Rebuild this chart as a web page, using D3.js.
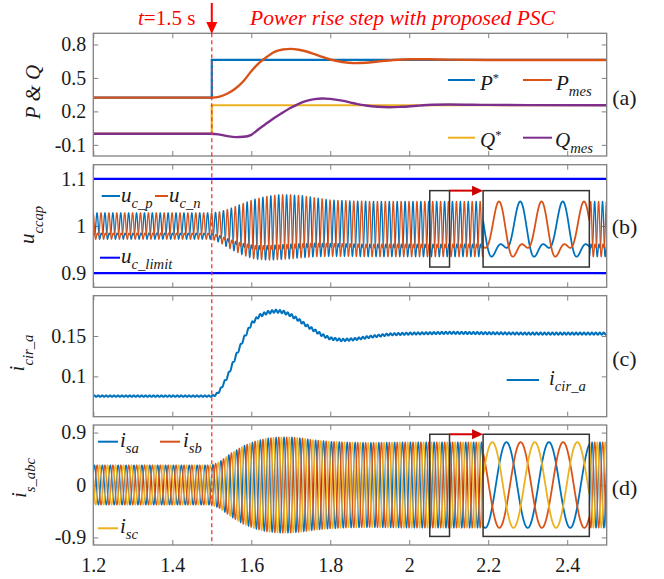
<!DOCTYPE html>
<html><head><meta charset="utf-8">
<script src="https://cdn.jsdelivr.net/npm/d3@7"></script>
</head><body style="margin:0;background:#fff">
<svg id="c" width="664" height="579" font-family="Liberation Serif" style="display:block"></svg>
<script>
// ================= DATA =================
const xTicks=[1.2,1.4,1.6,1.8,2,2.2,2.4];
const yTicksA=[-0.1,0.2,0.5,0.8];
const yTicksB=[0.9,1,1.1];
const yTicksC=[0.1,0.15];
const yTicksD=[-0.9,0,0.9];

// (a) power references and measurements
const refT=[1.2,1.5,1.5,2.5];
const pRef=[0.323,0.323,0.661,0.661];
const qRef=[0,0,0.255,0.255];
const pMesT=[1.2,1.5,1.52,1.54,1.56,1.58,1.60,1.62,1.64,1.66,1.68,1.70,1.72,1.74,1.76,1.78,1.80,1.83,1.86,1.89,1.92,1.96,2.0,2.05,2.1,2.2,2.3,2.5];
const pMes=[0.323,0.323,0.333,0.36,0.405,0.47,0.56,0.635,0.69,0.735,0.755,0.76,0.753,0.737,0.713,0.688,0.665,0.643,0.633,0.636,0.647,0.661,0.668,0.667,0.664,0.661,0.661,0.661];
const qMesT=[1.2,1.5,1.52,1.54,1.56,1.58,1.60,1.62,1.64,1.66,1.68,1.70,1.72,1.74,1.76,1.78,1.80,1.83,1.86,1.89,1.92,1.95,1.98,2.02,2.06,2.1,2.2,2.3,2.5];
const qMes=[0,0,-0.008,-0.022,-0.031,-0.028,-0.01,0.045,0.095,0.145,0.19,0.232,0.268,0.294,0.31,0.316,0.312,0.296,0.273,0.253,0.241,0.237,0.241,0.251,0.259,0.262,0.258,0.256,0.255];

// (b) capacitor voltage envelope (upper / lower) and waveform harmonics
const ucEnvT=[1.2,1.5,1.52,1.55,1.58,1.61,1.64,1.67,1.70,1.73,1.76,1.80,1.85,1.9,2.0,2.5];
const ucHi=[1.028,1.028,1.03,1.038,1.048,1.057,1.063,1.066,1.066,1.064,1.06,1.055,1.053,1.052,1.052,1.052];
const ucLo=[0.972,0.972,0.965,0.950,0.938,0.930,0.928,0.929,0.931,0.933,0.935,0.936,0.936,0.935,0.935,0.935];
const ucHarmAmp=[1,0.55];
const ucHarmPh=[0,-0.45];
const ucLimit=[1.1,0.9];

// (c) circulating current (mean) and ripple amplitude
const icirT=[1.2,1.5,1.51,1.52,1.54,1.56,1.58,1.60,1.62,1.64,1.66,1.68,1.70,1.72,1.74,1.76,1.78,1.80,1.83,1.86,1.90,1.95,2.0,2.1,2.2,2.3,2.5];
const icir=[0.0755,0.0755,0.077,0.082,0.100,0.124,0.146,0.165,0.175,0.179,0.181,0.180,0.176,0.170,0.163,0.157,0.151,0.147,0.145,0.146,0.149,0.152,0.153,0.154,0.1535,0.153,0.153];
const icirRipT=[1.2,1.5,1.55,1.7,1.9,2.5];
const icirRip=[0.0009,0.0009,0.0018,0.0018,0.0013,0.0013];

// (d) grid current amplitude envelope
const isEnvT=[1.2,1.5,1.52,1.55,1.58,1.61,1.64,1.67,1.70,1.73,1.76,1.80,1.85,1.9,2.0,2.5];
const isAmp=[0.34,0.34,0.40,0.55,0.67,0.75,0.80,0.82,0.82,0.80,0.77,0.745,0.73,0.725,0.735,0.735];

const fGrid=50;        // Hz
const fRipple=100;     // Hz
const ucPeakT=2.059;   // time of a u_c_n peak
const isPeakT=2.063;   // time of an i_sa peak
const zoomSrc=[2.052,2.102];
const zoomDst=[2.187,2.456];
const zoomBoxB=[0.913,1.075];
const zoomBoxD=[-0.883,0.871];

// ================= LAYOUT =================
const FONT="Liberation Serif";
const C={blue:"#0072BD",orange:"#D95319",yellow:"#EDB120",purple:"#7E2F8E",lim:"#0000FF",red:"#FF0000",frame:"#808080",txt:"#1a1a1a"};
const svg=d3.select("#c");
const x=d3.scaleLinear().domain([1.2,2.5]).range([93.3,606.7]);
const P=[
 {id:"a",top:33.3,bot:156,dom:[-0.2,0.9],ticks:yTicksA},
 {id:"b",top:164.7,bot:287.3,dom:[0.87,1.13],ticks:yTicksB},
 {id:"c",top:295.7,bot:416.7,dom:[0.05,0.2],ticks:yTicksC},
 {id:"d",top:425,bot:545,dom:[-1.03,1.03],ticks:yTicksD}
];
P.forEach(p=>{p.y=d3.scaleLinear().domain(p.dom).range([p.bot,p.top]);});
const defs=svg.append("defs");
P.forEach(p=>{
  defs.append("clipPath").attr("id","clip"+p.id).append("rect")
   .attr("x",x.range()[0]).attr("y",p.top).attr("width",x.range()[1]-x.range()[0]).attr("height",p.bot-p.top);
});

function txt(parent){return parent.append("text").attr("font-family",FONT).style("font-family",FONT).attr("fill",C.txt);}
function rich(sel,parts,size,subShift){
  let shift=0;
  parts.forEach(([s,m])=>{
    const ts=sel.append("tspan").text(s).style("font-family",FONT);
    let target=0,fs=size,it=true;
    if(m==="n")it=false;
    if(m==="sub"){target=size*(subShift||0.3);fs=size*0.7;}
    if(m==="sup"){target=-size*0.4;fs=size*0.6;it=false;}
    ts.attr("dy",target-shift).attr("font-size",fs).attr("font-style",it?"italic":"normal");
    shift=target;
  });
}
const interp=(T,V)=>d3.scaleLinear().domain(T).range(V).clamp(true);
function grid(t0,t1,dt){const a=[];const n=Math.round((t1-t0)/dt);for(let i=0;i<=n;i++)a.push(t0+i*dt);return a;}
const w=2*Math.PI*fGrid;

// series builders
const hiF=interp(ucEnvT,ucHi), loF=interp(ucEnvT,ucLo);
const gF=th=>ucHarmAmp.reduce((s,a,k)=>s+a*Math.cos((k+1)*th+ucHarmPh[k]),0);
let gmax=-1e9,gmin=1e9;
for(let i=0;i<2000;i++){const v=gF(i/2000*2*Math.PI);gmax=Math.max(gmax,v);gmin=Math.min(gmin,v);}
const uc=(t,sh)=>{const g=(gF(w*(t-ucPeakT)+sh)-gmin)/(gmax-gmin);return loF(t)+(hiF(t)-loF(t))*g;};
const ampF=interp(isEnvT,isAmp);
const isF=(t,k)=>ampF(t)*Math.cos(w*(t-isPeakT)-k*2*Math.PI/3);
const icF=interp(icirT,icir), ripF=interp(icirRipT,icirRip);

// ================= PANELS =================
P.forEach(p=>{
  const g=svg.append("g");
  const ax=(axis,tr)=>{const a=g.append("g").attr("transform",tr).call(axis).attr("font-family",FONT);a.select(".domain").remove();
     a.selectAll(".tick line").attr("stroke",C.frame).attr("stroke-width",1);
     a.selectAll(".tick text").attr("font-size",20).attr("fill",C.txt).style("font-family",FONT);return a;};
  ax(d3.axisBottom(x).tickValues(xTicks).tickSizeInner(-5).tickSizeOuter(0).tickPadding(13)
     .tickFormat(p.id==="d"?(d=>String(d)):()=>""),`translate(0,${p.bot})`);
  ax(d3.axisTop(x).tickValues(xTicks).tickSizeInner(-5).tickSizeOuter(0).tickFormat(()=>""),`translate(0,${p.top})`);
  ax(d3.axisLeft(p.y).tickValues(p.ticks).tickSizeInner(-5).tickSizeOuter(0).tickPadding(7).tickFormat(d=>String(d)),`translate(${x.range()[0]},0)`);
  ax(d3.axisRight(p.y).tickValues(p.ticks).tickSizeInner(-5).tickSizeOuter(0).tickFormat(()=>""),`translate(${x.range()[1]},0)`);
  p.g=g.append("g").attr("clip-path",`url(#clip${p.id})`);
});

const lineOf=(p,xs=x)=>d3.line().x(d=>xs(d[0])).y(d=>p.y(d[1]));

// (a)
{const p=P[0];
 const add=(T,V,c,wd,curve)=>p.g.append("path").datum(T.map((t,i)=>[t,V[i]]))
   .attr("d",lineOf(p).curve(curve||d3.curveLinear)).attr("fill","none").attr("stroke",c).attr("stroke-width",wd);
 add(refT,pRef,C.blue,2.2); add(refT,qRef,C.yellow,2.2);
 add(pMesT,pMes,C.orange,2.4,d3.curveMonotoneX); add(qMesT,qMes,C.purple,2.4,d3.curveMonotoneX);
}
// (b)
{const p=P[1];
 ucLimit.forEach(v=>p.g.append("line").attr("x1",x.range()[0]).attr("x2",x.range()[1]).attr("y1",p.y(v)).attr("y2",p.y(v)).attr("stroke",C.lim).attr("stroke-width",2.2));
 const ts=grid(1.2,2.5,0.0002);
 p.g.append("path").datum(ts.map(t=>[t,uc(t,Math.PI)])).attr("d",lineOf(p)).attr("fill","none").attr("stroke",C.blue).attr("stroke-width",1.3);
 p.g.append("path").datum(ts.map(t=>[t,uc(t,0)])).attr("d",lineOf(p)).attr("fill","none").attr("stroke",C.orange).attr("stroke-width",1.3);
}
// (c)
{const p=P[2];
 const ts=grid(1.2,2.5,0.0002);
 p.g.append("path").datum(ts.map(t=>[t,icF(t)+ripF(t)*Math.sin(2*Math.PI*fRipple*t)])).attr("d",lineOf(p))
  .attr("fill","none").attr("stroke",C.blue).attr("stroke-width",2);
}
// (d)
{const p=P[3];
 const ts=grid(1.2,2.5,0.0002);
 [C.blue,C.orange,C.yellow].forEach((c,k)=>{
   p.g.append("path").datum(ts.map(t=>[t,isF(t,k)])).attr("d",lineOf(p)).attr("fill","none").attr("stroke",c).attr("stroke-width",1.3);
 });
}

// ================= INSETS =================
function inset(p,box,series){
  const g=svg.append("g");
  const x0=x(zoomSrc[0]),x1=x(zoomSrc[1]),X0=x(zoomDst[0]),X1=x(zoomDst[1]);
  const yt=p.y(box[1]),yb=p.y(box[0]);
  g.append("rect").attr("x",x0).attr("y",yt).attr("width",x1-x0).attr("height",yb-yt).attr("fill","none").attr("stroke","#333").attr("stroke-width",1.5);
  g.append("rect").attr("x",X0).attr("y",yt).attr("width",X1-X0).attr("height",yb-yt).attr("fill","#fff");
  const id="ins"+p.id;
  defs.append("clipPath").attr("id",id).append("rect").attr("x",X0).attr("y",yt).attr("width",X1-X0).attr("height",yb-yt);
  const xi=d3.scaleLinear().domain(zoomSrc).range([X0,X1]);
  const ts=grid(zoomSrc[0],zoomSrc[1],0.00005);
  const gi=g.append("g").attr("clip-path",`url(#${id})`);
  series.forEach(([f,c])=>gi.append("path").datum(ts.map(t=>[t,f(t)])).attr("d",lineOf(p,xi)).attr("fill","none").attr("stroke",c).attr("stroke-width",1.8));
  g.append("rect").attr("x",X0).attr("y",yt).attr("width",X1-X0).attr("height",yb-yt).attr("fill","none").attr("stroke","#333").attr("stroke-width",1.5);
  g.append("line").attr("x1",x1).attr("x2",X0-9).attr("y1",yt).attr("y2",yt).attr("stroke","#D00000").attr("stroke-width",2);
  g.append("path").attr("d",`M${X0},${yt}L${X0-11},${yt-5}L${X0-11},${yt+5}Z`).attr("fill","#D00000");
}
inset(P[1],zoomBoxB,[[t=>uc(t,Math.PI),C.blue],[t=>uc(t,0),C.orange]]);
inset(P[3],zoomBoxD,[[t=>isF(t,0),C.blue],[t=>isF(t,1),C.orange],[t=>isF(t,2),C.yellow]]);

// frames
P.forEach(p=>svg.append("rect").attr("x",x.range()[0]).attr("y",p.top).attr("width",x.range()[1]-x.range()[0]).attr("height",p.bot-p.top)
  .attr("fill","none").attr("stroke",C.frame).attr("stroke-width",1.3));

// ================= LEGENDS =================
function leg(x1,x2,y,c,tx,base,parts){
  svg.append("line").attr("x1",x1).attr("x2",x2).attr("y1",y).attr("y2",y).attr("stroke",c).attr("stroke-width",2);
  rich(txt(svg).attr("x",tx).attr("y",base),parts,21);
}
leg(448,475,80,C.blue,480,90,[["P","i"],["*","sup"]]);
leg(523,552,80,C.orange,556,90,[["P","i"],["mes","sub"]]);
leg(448,475,137.7,C.yellow,480,147,[["Q","i"],["*","sup"]]);
leg(523,552,137.7,C.purple,555,147,[["Q","i"],["mes","sub"]]);
leg(101.7,120,196,C.blue,121,202,[["u","i"],["c_p","sub"]]);
leg(155,168,196,C.orange,169,202,[["u","i"],["c_n","sub"]]);
leg(100,120,257.7,C.lim,121,263,[["u","i"],["c_limit","sub"]]);
leg(506.7,539,380,C.blue,549,385,[["i","i"],["cir_a","sub"]]);
leg(98,118,441.7,C.blue,120,447,[["i","i"],["sa","sub"]]);
leg(160,180,441.7,C.orange,183,447,[["i","i"],["sb","sub"]]);
leg(98,118,528.3,C.yellow,120,533,[["i","i"],["sc","sub"]]);

// axis labels
function ylab(xp,yp,parts){rich(txt(svg).attr("text-anchor","middle").attr("transform",`translate(${xp},${yp}) rotate(-90)`),parts,21,0.42);}
ylab(40,92,[["P & Q","i"]]);
ylab(34,225,[["u","i"],["ccap","sub"]]);
ylab(24,353,[["i","i"],["cir_a","sub"]]);
ylab(26,478,[["i","i"],["s_abc","sub"]]);
[["(a)",104.5],["(b)",233.5],["(c)",365.5],["(d)",494.5]].forEach(([s,yb])=>txt(svg).attr("x",624.5).attr("y",yb).attr("text-anchor","middle").attr("font-size",22).text(s));

// ================= ANNOTATIONS =================
const xs=x(1.5);
svg.append("line").attr("x1",xs).attr("x2",xs).attr("y1",33.3).attr("y2",545).attr("stroke","#FF3030").attr("stroke-width",1.3).attr("stroke-dasharray","4,3");
svg.append("line").attr("x1",xs).attr("x2",xs).attr("y1",3).attr("y2",24).attr("stroke",C.red).attr("stroke-width",2);
svg.append("path").attr("d",`M${xs},34L${xs-5.5},22L${xs+5.5},22Z`).attr("fill",C.red);
const tt=txt(svg).attr("x",138).attr("y",25).attr("font-size",21).attr("fill",C.red);
tt.append("tspan").attr("font-style","italic").style("font-family",FONT).text("t");
tt.append("tspan").style("font-family",FONT).text("=1.5 s");
txt(svg).attr("x",250).attr("y",25).attr("font-size",21).attr("font-style","italic").attr("textLength",305).attr("lengthAdjust","spacingAndGlyphs").attr("fill",C.red).text("Power rise step with proposed PSC");
</script>
</body></html>
